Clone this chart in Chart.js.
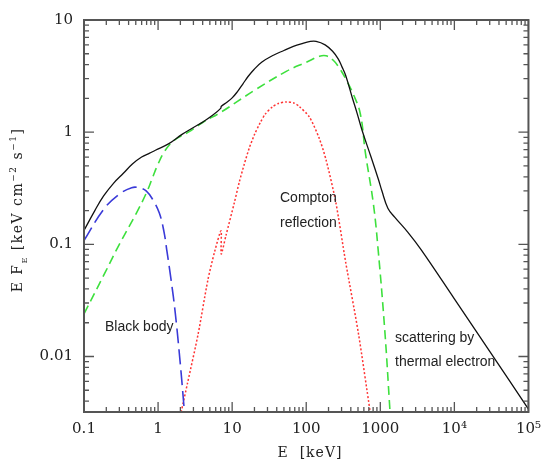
<!DOCTYPE html>
<html lang="en">
<head>
  <meta charset="UTF-8">
  <title>Espectro</title>
  <style>
    html, body { margin: 0; padding: 0; background: #fff; }
  </style>
</head>
<body>
  <canvas id="grafico" width="549" height="465"></canvas>

  <script src="https://cdn.jsdelivr.net/npm/chart.js"></script>
  <script>
    // energia (keV) y E*F_E
    const totalE = [0.1, 0.14, 0.184, 0.25, 0.34, 0.45, 0.6, 0.77, 0.92, 1.4, 2.08, 3, 4, 5.5, 7.0, 7.15, 8.5, 10, 11.8, 14, 16.5, 19.6, 25, 36, 50, 67, 90, 110, 136, 180, 227, 270, 305, 341, 417, 490, 567, 750, 944, 1050, 1265, 1574, 2360, 3590, 1e4, 3e4, 1e5];
    const totalF = [0.133, 0.2, 0.27, 0.35, 0.43, 0.52, 0.6, 0.65, 0.69, 0.79, 0.95, 1.1, 1.23, 1.42, 1.63, 1.7, 1.85, 2.02, 2.3, 2.7, 3.15, 3.6, 4.2, 4.85, 5.35, 5.82, 6.2, 6.42, 6.45, 6.0, 5.26, 4.5, 3.8, 3.2, 2.05, 1.45, 1.04, 0.6, 0.378, 0.3, 0.21, 0.174, 0.128, 0.089, 0.0327, 0.0111, 0.0034];

    const termicoE = [0.1, 0.19, 0.3, 0.51, 0.7, 0.85, 1.0, 1.2, 1.5, 2.0, 2.56, 4, 7.1, 19.6, 54.5, 100, 151, 185, 230, 278, 340, 430, 537, 630, 803, 933, 1150, 1350];
    const termicoF = [0.024, 0.055, 0.1, 0.19, 0.29, 0.4, 0.52, 0.66, 0.8, 0.92, 1.0, 1.22, 1.51, 2.34, 3.5, 4.2, 4.75, 4.8, 4.4, 3.76, 3.0, 2.2, 1.46, 0.65, 0.235, 0.091, 0.017, 0.0033];

    const cuerpoNegroE = [0.1, 0.184, 0.3, 0.44, 0.55, 0.69, 0.85, 1.04, 1.2, 1.32, 1.5, 1.7, 1.98, 2.27];
    const cuerpoNegroF = [0.108, 0.205, 0.28, 0.32, 0.32, 0.30, 0.25, 0.19, 0.13, 0.086, 0.048, 0.025, 0.0091, 0.0032];

    const comptonE = [2.05, 2.5, 3.47, 4.7, 5.8, 7.08, 7.12, 8.25, 10.7, 12.5, 14.6, 17, 20, 24, 28, 35, 42, 54, 68, 80, 110, 150, 186, 250, 340, 507, 730];
    const comptonF = [0.0032, 0.0058, 0.0158, 0.048, 0.086, 0.132, 0.082, 0.12, 0.235, 0.36, 0.52, 0.72, 0.95, 1.22, 1.45, 1.68, 1.8, 1.86, 1.82, 1.7, 1.37, 0.88, 0.56, 0.24, 0.07, 0.016, 0.0032];

    const xTicks = [0.1, 1, 10, 100, 1000, 1e4, 1e5];
    const xTickLabels = ['0.1', '1', '10', '100', '1000', '10⁴', '10⁵'];
    const yTicks = [0.01, 0.1, 1, 10];
    const yTickLabels = ['0.01', '0.1', '1', '10'];

    const rotulos = [
      { text: 'Black body', x: 105, y: 327 },
      { text: 'Compton', x: 280, y: 198 },
      { text: 'reflection', x: 280, y: 223 },
      { text: 'scattering by', x: 395, y: 338 },
      { text: 'thermal electron', x: 395, y: 362 }
    ];

    function puntos(xs, ys) {
      return xs.map((x, i) => ({ x: x, y: ys[i] }));
    }

    function textoRico(ctx, partes, x, y) {
      let ancho = 0;
      partes.forEach(p => {
        ctx.font = `${p.s}px "DejaVu Serif"`;
        ancho += ctx.measureText(p.t).width;
      });
      let cx = x - ancho / 2;
      partes.forEach(p => {
        ctx.font = `${p.s}px "DejaVu Serif"`;
        ctx.fillText(p.t, cx, y + (p.dy || 0));
        cx += ctx.measureText(p.t).width;
      });
    }

    // marco con marcas hacia dentro, titulos y rotulos
    const marco = {
      id: 'marco',
      afterDraw(chart) {
        const ctx = chart.ctx;
        const a = chart.chartArea;
        const sx = chart.scales.x;
        const sy = chart.scales.y;
        ctx.save();
        ctx.strokeStyle = '#555';
        ctx.lineWidth = 1.3;
        [sx, sy].forEach(s => {
          const d0 = Math.floor(Math.log10(s.min));
          const d1 = Math.ceil(Math.log10(s.max));
          for (let d = d0; d <= d1; d++) {
            for (let m = 1; m <= 9; m++) {
              const v = m * Math.pow(10, d);
              if (v < s.min * 0.999 || v > s.max * 1.001) continue;
              const len = m === 1 ? 10 : 5;
              const p = s.getPixelForValue(v);
              ctx.beginPath();
              if (s === sx) {
                ctx.moveTo(p, a.bottom); ctx.lineTo(p, a.bottom - len);
                ctx.moveTo(p, a.top); ctx.lineTo(p, a.top + len);
              } else {
                ctx.moveTo(a.left, p); ctx.lineTo(a.left + len, p);
                ctx.moveTo(a.right, p); ctx.lineTo(a.right - len, p);
              }
              ctx.stroke();
            }
          }
        });
        ctx.lineWidth = 2;
        ctx.strokeRect(a.left, a.top, a.right - a.left, a.bottom - a.top);

        ctx.fillStyle = '#222';
        ctx.textBaseline = 'alphabetic';
        ctx.textAlign = 'left';
        ctx.letterSpacing = '1px';
        textoRico(ctx, [{ t: 'E  [keV]', s: 14 }], 310, 457);

        ctx.save();
        ctx.translate(22, 210);
        ctx.rotate(-Math.PI / 2);
        ctx.letterSpacing = '1.5px';
        textoRico(ctx, [
          { t: 'E F', s: 14 },
          { t: 'E', s: 8, dy: 5 },
          { t: ' [keV cm', s: 14 },
          { t: '−2', s: 9, dy: -6 },
          { t: ' s', s: 14 },
          { t: '−1', s: 9, dy: -6 },
          { t: ']', s: 14 }
        ], 0, 0);
        ctx.restore();

        ctx.letterSpacing = '0px';
        ctx.font = '14px "Liberation Sans", Arial, sans-serif';
        ctx.textBaseline = 'middle';
        rotulos.forEach(r => ctx.fillText(r.text, r.x, r.y));
        ctx.restore();
      }
    };

    const lienzo = document.querySelector('#grafico');

    const grafico = new Chart(lienzo, {
      type: 'line',
      data: {
        datasets: [
          {
            label: 'total',
            data: puntos(totalE, totalF),
            borderColor: '#111',
            borderWidth: 1.3
          },
          {
            label: 'scattering by thermal electron',
            data: puntos(termicoE, termicoF),
            borderColor: '#3de03d',
            borderWidth: 1.6,
            borderDash: [9, 5]
          },
          {
            label: 'Black body',
            data: puntos(cuerpoNegroE, cuerpoNegroF),
            borderColor: '#3a3ad8',
            borderWidth: 1.6,
            borderDash: [15, 6]
          },
          {
            label: 'Compton reflection',
            data: puntos(comptonE, comptonF),
            borderColor: '#ff3333',
            borderWidth: 1.5,
            borderDash: [2, 2],
            tension: 0.25
          }
        ]
      },
      options: {
        responsive: false,
        animation: false,
        parsing: false,
        elements: {
          point: { radius: 0 },
          line: { tension: 0.4, fill: false }
        },
        layout: { padding: { top: 15, right: 13, left: 0, bottom: 0 } },
        plugins: {
          legend: { display: false },
          tooltip: { enabled: false }
        },
        scales: {
          x: {
            type: 'logarithmic',
            min: 0.1,
            max: 1e5,
            grid: { display: false, drawTicks: false },
            border: { display: false },
            afterBuildTicks: s => { s.ticks = xTicks.map(v => ({ value: v })); },
            afterFit: s => { s.height = 53; },
            ticks: {
              autoSkip: false,
              maxRotation: 0,
              padding: 8,
              color: '#222',
              font: { family: 'DejaVu Serif', size: 15 },
              callback: v => xTickLabels[xTicks.indexOf(v)]
            }
          },
          y: {
            type: 'logarithmic',
            min: 0.0032,
            max: 10,
            grid: { display: false, drawTicks: false },
            border: { display: false },
            afterBuildTicks: s => { s.ticks = yTicks.map(v => ({ value: v })); },
            afterFit: s => { s.width = 84; },
            ticks: {
              autoSkip: false,
              padding: 11,
              color: '#222',
              font: { family: 'DejaVu Serif', size: 15 },
              callback: v => yTickLabels[yTicks.indexOf(v)]
            }
          }
        }
      },
      plugins: [marco]
    });
  </script>
</body>
</html>
